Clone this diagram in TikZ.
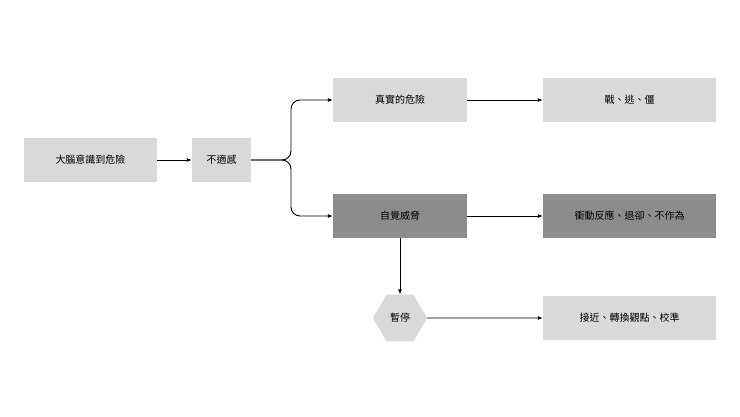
\documentclass[tikz,border=0pt]{standalone}
\usepackage{fontspec}
\setmainfont{Noto Sans CJK TC}
\usetikzlibrary{arrows.meta,shapes.geometric}
\begin{document}
\begin{tikzpicture}[x=1pt,y=-1pt,
  box/.style={fill=black!15,minimum height=44pt,inner sep=0pt,font=\fontsize{10}{12}\selectfont},
  dark/.style={box,fill=black!45},
  arr/.style={-{Latex[length=5pt,width=4pt]},line width=0.9pt}]
\useasboundingbox (0,0) rectangle (740,416);
\node[box,minimum width=133pt] (a) at (90.5,160) {大腦意識到危險};
\node[box,minimum width=59pt] (b) at (221.5,160) {不適感};
\node[box,minimum width=134pt] (c) at (400,100) {真實的危險};
\node[box,minimum width=173pt] (d) at (629.5,100) {戰、逃、僵};
\node[dark,minimum width=134pt] (e) at (400,216) {自覺威脅};
\node[dark,minimum width=173pt] (f) at (629.5,216) {衝動反應、退卻、不作為};
\node[regular polygon,regular polygon sides=6,minimum size=54pt,inner sep=0pt,fill=black!15,font=\fontsize{10}{12}\selectfont] (g) at (400,318) {暫停};
\node[box,minimum width=173pt] (h) at (629.5,318) {接近、轉換觀點、校準};
\draw[arr] (a) -- (b);
\draw[arr,rounded corners=9pt] (b.east) -- (291,160) -- (291,100) -- (c.west);
\draw[arr,rounded corners=9pt] (b.east) -- (291,160) -- (291,216) -- (e.west);
\draw[arr] (c) -- (d);
\draw[arr] (e) -- (f);
\draw[arr] (e) -- (g);
\draw[arr] (g) -- (h);
\end{tikzpicture}
\end{document}
